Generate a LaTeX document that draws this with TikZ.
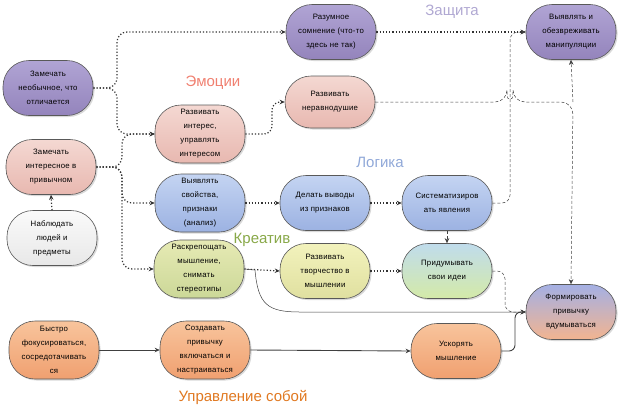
\documentclass[tikz,border=0pt]{standalone}
\usepackage{fontspec}
\setmainfont{Liberation Sans}
\newfontfamily\boxfont[LetterSpace=3]{Liberation Sans}
\usetikzlibrary{arrows.meta,shadows}
\definecolor{purT}{HTML}{B0A4D4}\definecolor{purB}{HTML}{9484BC}
\definecolor{pinT}{HTML}{F4D8D2}\definecolor{pinB}{HTML}{E8B8B0}
\definecolor{whT}{HTML}{FAFAFA}\definecolor{whB}{HTML}{E8E8E8}
\definecolor{bluT}{HTML}{C4D4F2}\definecolor{bluB}{HTML}{9CB2E2}
\definecolor{ygT}{HTML}{E6EAB4}\definecolor{ygB}{HTML}{CCD898}
\definecolor{yeT}{HTML}{F2F2BC}\definecolor{yeB}{HTML}{E0E0A0}
\definecolor{grT}{HTML}{C0DCEC}\definecolor{grB}{HTML}{D4EAA8}
\definecolor{orT}{HTML}{F8C49C}\definecolor{orB}{HTML}{F0A070}
\definecolor{fmT}{HTML}{A4B0E4}\definecolor{fmM}{HTML}{CCC2CC}\definecolor{fmB}{HTML}{F2B490}
\begin{document}
\begin{tikzpicture}[x=1pt,y=-1pt,
  box/.style={draw=black!65, line width=0.6pt, rounded corners=26pt,
    minimum width=90pt, minimum height=55pt, align=center, inner sep=2pt,
    font=\boxfont\fontsize{7.8}{14}\selectfont,
    drop shadow={opacity=0.3,shadow xshift=1.5pt,shadow yshift=-1.5pt}},
  tall/.style={minimum height=58pt},
  pur/.style={top color=purT,bottom color=purB},
  pin/.style={top color=pinT,bottom color=pinB},
  wht/.style={top color=whT,bottom color=whB},
  blu/.style={top color=bluT,bottom color=bluB},
  ygr/.style={top color=ygT,bottom color=ygB},
  yel/.style={top color=yeT,bottom color=yeB},
  grn/.style={top color=grT,bottom color=grB},
  ora/.style={top color=orT,bottom color=orB},
  frm/.style={top color=fmT,middle color=fmM,bottom color=fmB},
  tip/.style={-{Stealth[length=5pt,width=4.5pt]}},
  dotl/.style={tip, draw=black!80, line width=1.2pt, dotted},
  dashl/.style={tip, draw=black!75, line width=0.5pt, densely dashed},
  thinl/.style={tip, draw=black!75, line width=0.5pt},
  soll/.style={tip, draw=black!75, line width=0.9pt},
  lab/.style={font=\fontsize{15}{17}\selectfont}
]
\useasboundingbox (0,0) rectangle (623,410);

% nodes
\node[box,pur] (n1) at (48,88) {Замечать\\необычное, что\\отличается};
\node[box,pin] (n2) at (51,167) {Замечать\\интересное в\\привычном};
\node[box,wht] (n3) at (52,238) {Наблюдать\\людей и\\предметы};
\node[box,pur] (n4) at (331,32) {Разумное\\сомнение (что-то\\здесь не так)};
\node[box,pin,tall] (n5) at (200,134) {Развивать\\интерес,\\управлять\\интересом};
\node[box,pin,minimum height=52pt] (n6) at (330,102) {Развивать\\неравнодушие};
\node[box,blu,tall] (n7) at (200,203) {Выявлять\\свойства,\\признаки\\(анализ)};
\node[box,blu] (n8) at (325,203) {Делать выводы\\из признаков};
\node[box,blu] (n9) at (447,203) {Систематизиров\\ать явления};
\node[box,pur] (n10) at (571,32) {Выявлять и\\обезвреживать\\манипуляции};
\node[box,ygr,tall] (n11) at (199,269) {Раскрепощать\\мышление,\\снимать\\стереотипы};
\node[box,yel] (n12) at (325,271) {Развивать\\творчество в\\мышлении};
\node[box,grn] (n13) at (447,271) {Придумывать\\свои идеи};
\node[box,frm] (n14) at (571,312) {Формировать\\привычку\\вдумываться};
\node[box,ora,tall] (n15) at (54,350) {Быстро\\фокусироваться,\\сосредотачивать\\ся};
\node[box,ora,tall] (n16) at (205,350) {Создавать\\привычку\\включаться и\\настраиваться};
\node[box,ora] (n17) at (456,351) {Ускорять\\мышление};

% category labels
\node[lab,text={rgb,255:red,176;green,168;blue,210}] (lz) at (452,12) {Защита};
\node[lab,text={rgb,255:red,240;green,128;blue,112}] (le) at (213,83) {Эмоции};
\node[lab,text={rgb,255:red,144;green,168;blue,216}] (ll) at (380,162) {Логика};
\node[lab,text={rgb,255:red,136;green,168;blue,72}] (lk) at (262,240) {Креатив};
\node[lab,text={rgb,255:red,224;green,120;blue,32}] (lu) at (243,397) {Управление собой};

% junctions
\coordinate (j6) at (573,102);

% connectors
\draw[dotl,rounded corners=10pt] (n1.east) -- (117,88) -- (117,32) -- (n4.west);
\draw[dotl,rounded corners=10pt] (n1.east) -- (117,88) -- (117,134) -- (n5.west);
\draw[dotl,rounded corners=10pt] (n2.east) -- (122,167) -- (122,134) -- (n5.west);
\draw[dotl,rounded corners=10pt] (n2.east) -- (122,167) -- (122,203) -- (n7.west);
\draw[dotl,rounded corners=10pt] (n2.east) -- (122,167) -- (122,269) -- (n11.west);
\draw[dotl] (n3.north) -- (n2.south);
\draw[dotl,rounded corners=8pt] (n5.east) -- (272,134) -- (272,102) -- (n6.west);
\draw[dotl] (n4.east) -- (n10.west);
\draw[dotl] (n7.east) -- (n8.west);
\draw[dotl] (n8.east) -- (n9.west);
\draw[dotl] (n11.east) -- (n12.west);
\draw[dotl] (n12.east) -- (n13.west);
\draw[dashl] (n9.south) -- (n13.north);
\draw[dashl,rounded corners=8pt] (n9.east) -- (510,203) -- (510,32) -- (n10.west);
\draw[dashl,rounded corners=12pt] (n6.east) -- (507,102) arc[start angle=180,end angle=0,radius=3pt] -- (j6) -- (n14.north);
\draw[dashl] (j6) -- (n10.south);
\draw[dashl,rounded corners=8pt] (n13.east) -- (505,271) -- (505,312) -- (n14.west);
\draw[thinl] (n11.east) -- (255,270) .. controls (258,305) and (268,312) .. (300,312) -- (n14.west);
\draw[soll,rounded corners=6pt] (n17.east) -- (515,351) -- (515,312) -- (n14.west);
\draw[soll] (n15.east) -- (n16.west);
\draw[soll] (n16.east) -- (n17.west);
\end{tikzpicture}
\end{document}
